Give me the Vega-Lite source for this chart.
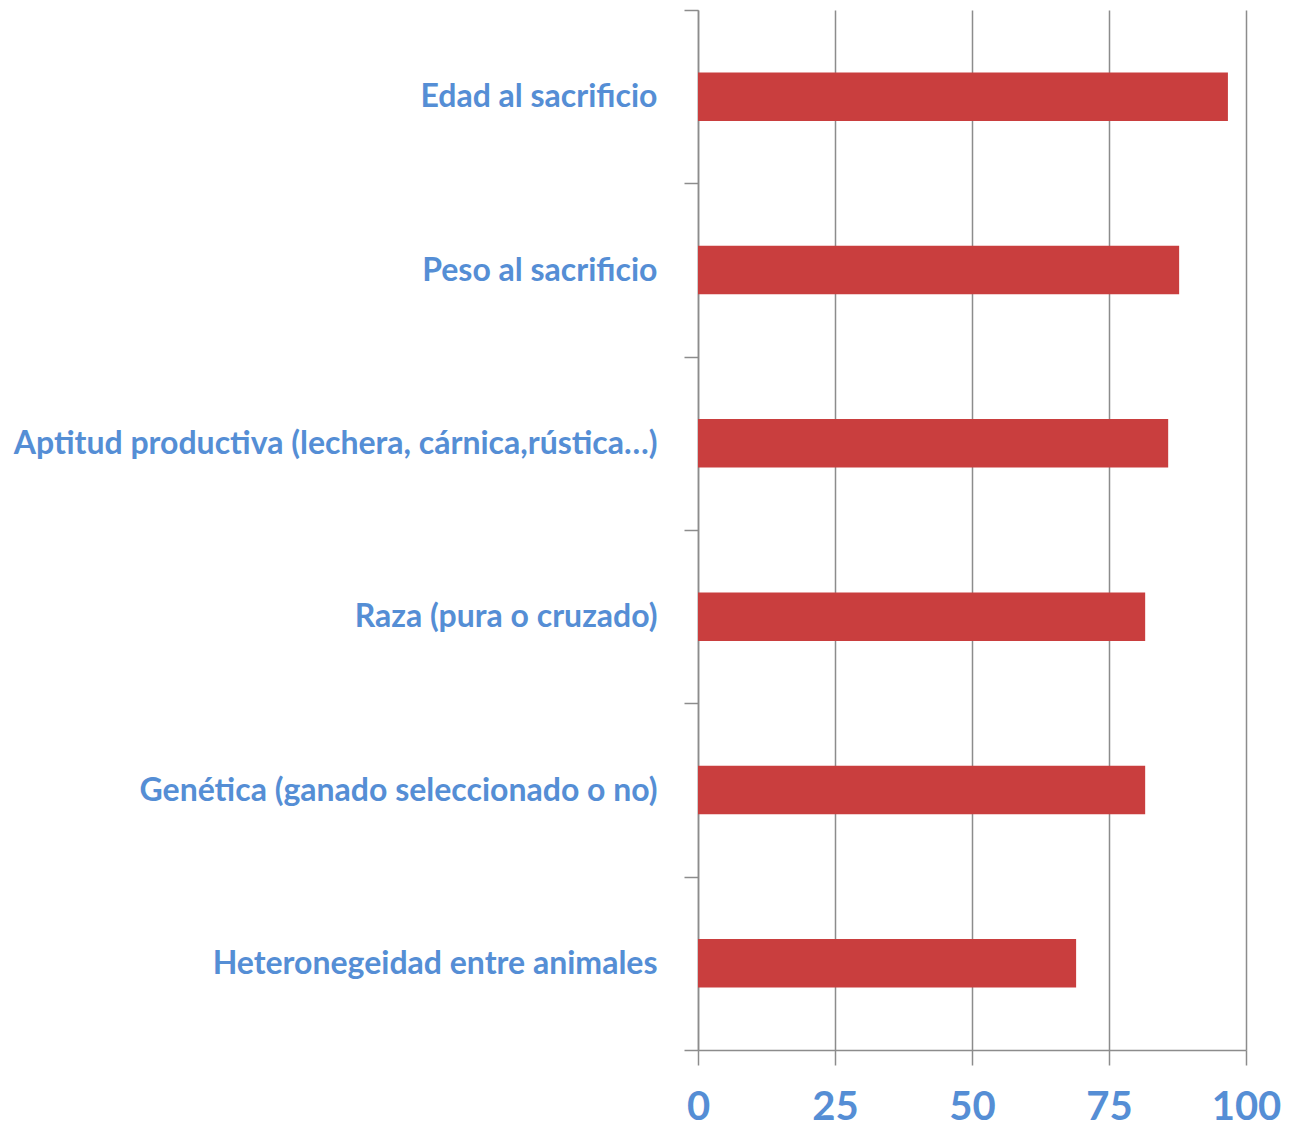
{
  "$schema": "https://vega.github.io/schema/vega-lite/v6.json",
  "autosize": {"type": "none"},
  "width": 548,
  "height": 1040,
  "padding": {"left": 698, "top": 10, "right": 53, "bottom": 82},
  "background": "white",
  "config": {"view": {"stroke": null}, "font": "Lato"},
  "data": {
    "values": [
      {"factor": "Edad al sacrificio", "serie": "Serie 1", "valor": 96.7},
      {"factor": "Peso al sacrificio", "serie": "Serie 1", "valor": 87.8},
      {"factor": "Aptitud productiva (lechera, cárnica,rústica…)", "serie": "Serie 1", "valor": 85.8},
      {"factor": "Raza (pura o cruzado)", "serie": "Serie 1", "valor": 81.6},
      {"factor": "Genética (ganado seleccionado o no)", "serie": "Serie 1", "valor": 81.6},
      {"factor": "Heteronegeidad entre animales", "serie": "Serie 1", "valor": 69.0},
      {"factor": "Heteronegeidad entre animales", "serie": "Serie 2", "valor": 1.0}
    ]
  },
  "encoding": {
    "y": {
      "field": "factor",
      "type": "nominal",
      "sort": null,
      "scale": {"paddingInner": 0, "paddingOuter": 0},
      "axis": {
        "title": null,
        "domainColor": "#8c8c8c",
        "domainWidth": 1.5,
        "tickColor": "#8c8c8c",
        "tickWidth": 1.5,
        "tickSize": 14,
        "tickBand": "extent",
        "labelPadding": 27,
        "labelFont": "Lato",
        "labelFontWeight": "bold",
        "labelFontSize": 32,
        "labelColor": "#558ed5",
        "labelLimit": 0,
        "labelLineHeight": 50
      }
    },
    "x": {
      "field": "valor",
      "type": "quantitative",
      "scale": {"domain": [0, 100], "nice": false},
      "axis": {
        "title": null,
        "values": [0, 25, 50, 75, 100],
        "grid": true,
        "gridColor": "#8c8c8c",
        "gridWidth": 1.5,
        "domainColor": "#8c8c8c",
        "domainWidth": 1.5,
        "tickColor": "#8c8c8c",
        "tickWidth": 1.5,
        "tickSize": 15,
        "labelPadding": 22,
        "labelFlush": false,
        "labelOverlap": false,
        "labelFont": "Lato",
        "labelFontWeight": "bold",
        "labelFontSize": 40,
        "labelColor": "#558ed5"
      }
    }
  },
  "layer": [
    {
      "transform": [{"filter": "datum.serie == 'Serie 1'"}],
      "mark": {"type": "bar", "color": "#c93e3e", "height": {"band": 0.28}}
    }
  ]
}
